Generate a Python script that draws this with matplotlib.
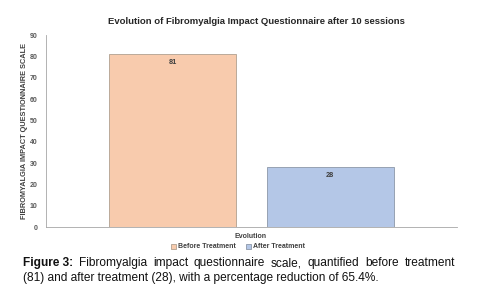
import matplotlib.pyplot as plt
import numpy as np

plt.rcParams['font.family'] = ['Liberation Sans', 'DejaVu Sans']

category = ['Evolution']
series = ['Before Treatment', 'After Treatment']
values = [81, 28]
colors = ['#F8CBAD', '#B4C7E7']
edges = ['#B0A090', '#8C97A8']

fig = plt.figure(figsize=(4.87, 2.87), dpi=100)
W, H = 487, 287
ax = fig.add_axes([46 / W, 1 - 227 / H, 411 / W, 192 / H])

offs = [-0.191, 0.191]
for i in range(len(series)):
    b = ax.bar(offs[i], values[i], width=0.309, color=colors[i], edgecolor=edges[i],
               linewidth=0.6, label=series[i])
    ax.text(offs[i], values[i] - 2.2, str(values[i]), ha='center', va='top',
            fontsize=5.3, fontweight='bold', color='#404040')

ax.set_xlim(-0.5, 0.5)
ax.set_ylim(0, 90)
ax.set_yticks(np.arange(0, 91, 10))
ax.set_xticks([])
for s in ['top', 'right']:
    ax.spines[s].set_visible(False)
ax.spines['left'].set_color('#A6A6A6')
ax.spines['bottom'].set_color('#A6A6A6')
ax.spines['left'].set_linewidth(0.6)
ax.spines['bottom'].set_linewidth(0.6)
ax.tick_params(axis='y', length=0, labelsize=5, labelcolor='#595959', pad=6)
for t in ax.get_yticklabels():
    t.set_fontweight('bold')

ax.set_ylabel('FIBROMYALGIA IMPACT QUESTIONNAIRE SCALE', fontsize=5.3,
              fontweight='bold', color='#404040', labelpad=1)

fig.text(256 / W, 1 - 21 / H, 'Evolution of Fibromyalgia Impact Questionnaire after 10 sessions',
         ha='center', va='center', fontsize=6.8, fontweight='bold', color='#262626')
fig.text(251 / W, 1 - 236 / H, category[0], ha='center', va='center', fontsize=5,
         fontweight='bold', color='#404040')

fig.legend(loc='center', bbox_to_anchor=(238 / W, 1 - 247 / H), ncol=2, frameon=False,
           handlelength=0.7, handleheight=0.7, handletextpad=0.3,
           columnspacing=1.5, prop={'weight': 'bold', 'size': 5}, labelcolor='#404040')

# caption, first line justified
fig.canvas.draw()
r = fig.canvas.get_renderer()
x0, x1 = 23, 455
y1 = 1 - 263 / H
words = [('Figure 3:', 'bold')] + [(w, 'normal') for w in
         'Fibromyalgia impact questionnaire scale, quantified before treatment'.split()]
arts = []
for w, fw in words:
    t = fig.text(0, y1, w, fontsize=8.6, fontweight=fw, va='center', color='#111111')
    arts.append(t)
widths = [a.get_window_extent(r).width for a in arts]
gap = (x1 - x0 - sum(widths)) / (len(words) - 1)
x = x0
for a, w in zip(arts, widths):
    a.set_x(x / W)
    x += w + gap
fig.text(x0 / W, 1 - 278 / H, '(81) and after treatment (28), with a percentage reduction of 65.4%.',
         fontsize=8.6, va='center', color='#111111')

fig.savefig('out.png', dpi=100)
